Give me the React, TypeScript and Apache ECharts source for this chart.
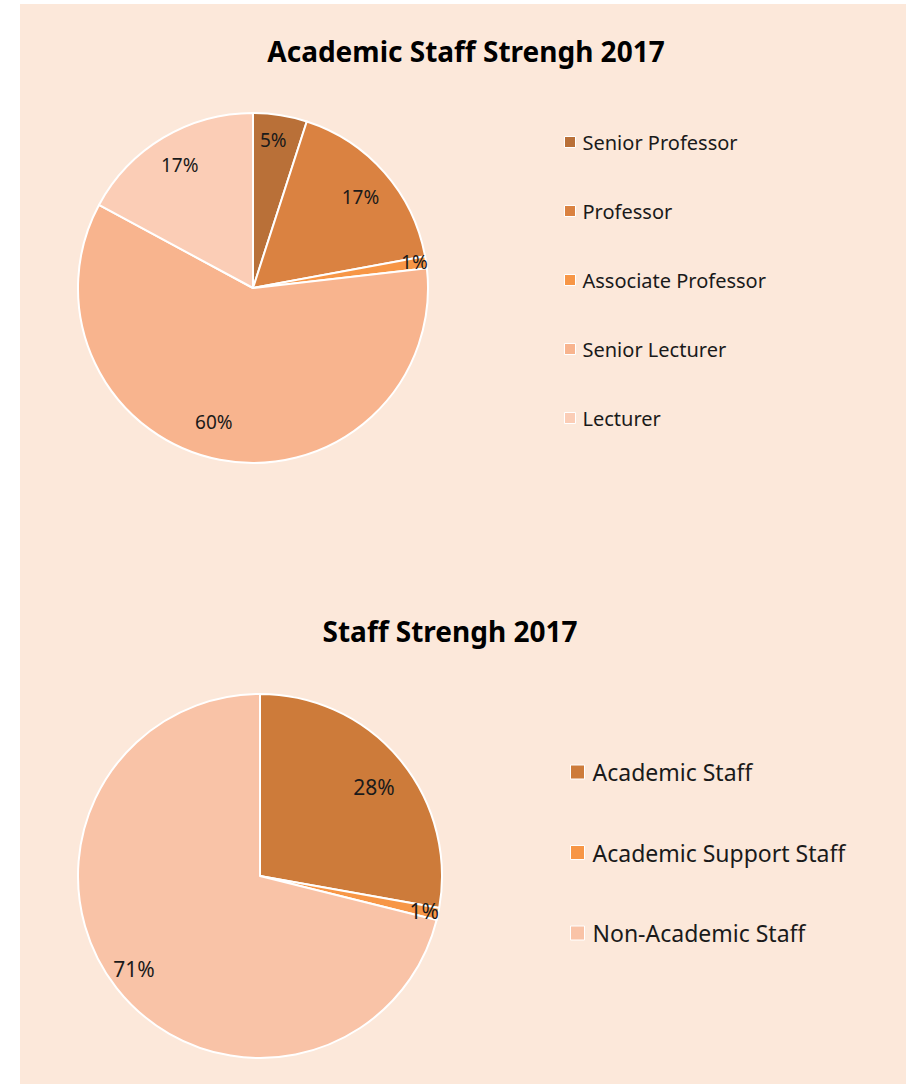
import React, { useEffect, useRef } from "react";
import * as echarts from "echarts";

const academicCategories = ["Senior Professor", "Professor", "Associate Professor", "Senior Lecturer", "Lecturer"];
const academicValues = [9, 31, 2, 108, 31];
const academicColors = ["#B97038", "#DA8241", "#F79646", "#F8B48E", "#FBCDB6"];

const staffCategories = ["Academic Staff", "Academic Support Staff", "Non-Academic Staff"];
const staffValues = [181, 7, 463];
const staffColors = ["#CD7B3A", "#F79646", "#F9C3A7"];

const FONT = "'Noto Sans', 'DejaVu Sans', sans-serif";

export default function App() {
  const ref = useRef<HTMLDivElement>(null);
  useEffect(() => {
    const chart = echarts.init(ref.current!, null, { renderer: "svg" });
    const pct = (p: any) => Math.round(p.percent) + "%";
    const topOffsets = [[-2, -7], [0, 3], [20, -5], [-12, -6], [0, 0]];
    const botOffsets = [[0, 6], [19, 4], [-9, 1]];
    const topR = 175;
    const botR = 182;
    const option: any = {
      animation: false,
      backgroundColor: "#ffffff",
      graphic: [
        { type: "rect", z: -10, shape: { x: 20, y: 4, width: 886, height: 1080 }, style: { fill: "#FCE8DA" }, silent: true },
      ],
      title: [
        { text: "Academic Staff Strengh 2017", left: 461, top: 32, textAlign: "center", textStyle: { fontFamily: FONT, fontSize: 28, fontWeight: "bold", color: "#000" } },
        { text: "Staff Strengh 2017", left: 445, top: 612, textAlign: "center", textStyle: { fontFamily: FONT, fontSize: 28, fontWeight: "bold", color: "#000" } },
      ],
      legend: [
        {
          data: academicCategories,
          orient: "vertical",
          left: 564,
          top: 131,
          padding: 0,
          icon: "rect",
          itemWidth: 11,
          itemHeight: 11,
          itemGap: 47,
          itemStyle: { borderColor: "#ffffff", borderWidth: 1 },
          textStyle: { fontFamily: FONT, fontSize: 20, lineHeight: 22, color: "#1a1a1a", padding: [0, 0, 0, 2] },
          selectedMode: false,
        },
        {
          data: staffCategories,
          orient: "vertical",
          left: 570,
          top: 759,
          padding: 0,
          icon: "rect",
          itemWidth: 14,
          itemHeight: 14,
          itemGap: 54.5,
          itemStyle: { borderColor: "#ffffff", borderWidth: 1 },
          textStyle: { fontFamily: FONT, fontSize: 23, lineHeight: 26, color: "#1a1a1a", padding: [0, 0, 0, 3] },
          selectedMode: false,
        },
      ],
      series: [
        {
          type: "pie",
          center: [253, 288],
          radius: [0, topR],
          startAngle: 90,
          data: academicCategories.map((n, i) => ({ name: n, value: academicValues[i], itemStyle: { color: academicColors[i] } })),
          itemStyle: { borderColor: "#ffffff", borderWidth: 2 },
          label: { show: false },
          labelLine: { show: false },
          silent: true,
        },
        {
          type: "pie",
          center: [253, 288],
          radius: [topR * 0.6, topR],
          startAngle: 90,
          data: academicCategories.map((n, i) => ({
            name: n,
            value: academicValues[i],
            itemStyle: { color: "transparent" },
            label: { offset: topOffsets[i] },
          })),
          label: { show: true, position: "inside", formatter: pct, fontFamily: FONT, fontSize: 19, color: "#1a1a1a" },
          labelLine: { show: false },
          silent: true,
          z: 3,
        },
        {
          type: "pie",
          center: [260, 876],
          radius: [0, botR],
          startAngle: 90,
          data: staffCategories.map((n, i) => ({ name: n, value: staffValues[i], itemStyle: { color: staffColors[i] } })),
          itemStyle: { borderColor: "#ffffff", borderWidth: 2 },
          label: { show: false },
          labelLine: { show: false },
          silent: true,
        },
        {
          type: "pie",
          center: [260, 876],
          radius: [botR * 0.6, botR],
          startAngle: 90,
          data: staffCategories.map((n, i) => ({
            name: n,
            value: staffValues[i],
            itemStyle: { color: "transparent" },
            label: { offset: botOffsets[i] },
          })),
          label: { show: true, position: "inside", formatter: pct, fontFamily: FONT, fontSize: 21, color: "#1a1a1a" },
          labelLine: { show: false },
          silent: true,
          z: 3,
        },
      ],
    };
    chart.setOption(option);
    return () => chart.dispose();
  }, []);
  return <div ref={ref} style={{ position: "fixed", left: 0, top: 0, width: 906, height: 1084 }} />;
}
